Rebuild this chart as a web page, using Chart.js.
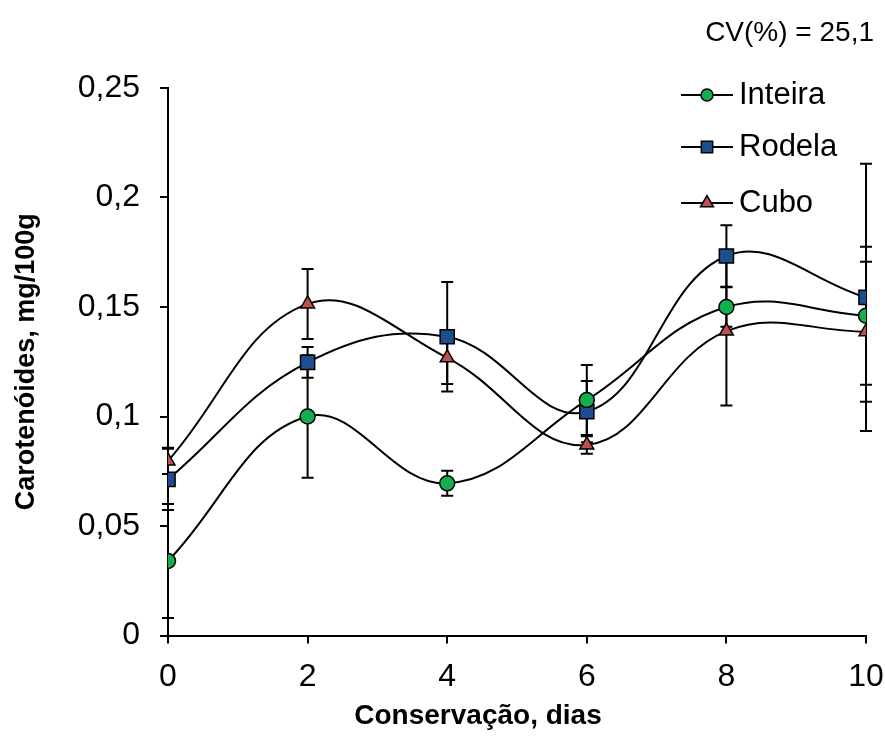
<!DOCTYPE html>
<html>
<head>
<meta charset="utf-8">
<script src="https://cdn.jsdelivr.net/npm/chart.js@4/dist/chart.umd.min.js"></script>
<style>
  html, body { margin: 0; padding: 0; background: #ffffff; }
  #wrap { width: 885px; height: 754px; position: relative; }
</style>
</head>
<body>
<div id="wrap"><canvas id="c" width="885" height="754"></canvas></div>
<script>
const days = [0, 2, 4, 6, 8, 10];
const seriesNames = ['Inteira', 'Rodela', 'Cubo'];
const inteira = [0.034, 0.100, 0.0695, 0.1075, 0.150, 0.146];
const rodela  = [0.0713, 0.1247, 0.1364, 0.1022, 0.1733, 0.1544];
const cubo    = [0.0797, 0.1514, 0.1268, 0.087, 0.139, 0.1387];
const inteiraErr = [0.026, 0.028, 0.0057, 0.016, 0.009, 0.0315];
const rodelaErr  = [0.014, 0.007, 0.025, 0.014, 0.014, 0.061];
const cuboErr    = [0.006, 0.016, 0.012, 0.004, 0.034, 0.032];
const yTickLabels = ['0', '0,05', '0,1', '0,15', '0,2', '0,25'];
const xTickLabels = ['0', '2', '4', '6', '8', '10'];
const cvText = 'CV(%) = 25,1';
const xTitle = 'Conservação, dias';
const yTitle = 'Carotenóides, mg/100g';

const FONT = "'Liberation Sans', Arial, Helvetica, sans-serif";

function pts(vals) { return days.map((d, i) => ({ x: d, y: vals[i] })); }

const styles = [
  { color: '#12B04C', point: 'circle', r: 7.5, lr: 6 },
  { color: '#1F4E8F', point: 'rect', r: 10, lr: 8 },
  { color: '#C0504D', point: 'triangle', r: 8, lr: 7.5 }
];
const allVals = [inteira, rodela, cubo];
const allErrs = [inteiraErr, rodelaErr, cuboErr];

const errorBars = {
  id: 'errorBars',
  beforeDatasetsDraw(chart) {
    const ctx = chart.ctx, xs = chart.scales.x, ys = chart.scales.y;
    ctx.save();
    ctx.strokeStyle = '#000';
    ctx.lineWidth = 2;
    allVals.forEach((vals, s) => {
      vals.forEach((v, j) => {
        const e = allErrs[s][j];
        const x = xs.getPixelForValue(days[j]);
        const yt = ys.getPixelForValue(v + e);
        const yb = ys.getPixelForValue(v - e);
        ctx.beginPath();
        ctx.moveTo(x, yt); ctx.lineTo(x, yb);
        ctx.moveTo(x - 6, yt); ctx.lineTo(x + 6, yt);
        ctx.moveTo(x - 6, yb); ctx.lineTo(x + 6, yb);
        ctx.stroke();
      });
    });
    ctx.restore();
  }
};

const extras = {
  id: 'extras',
  afterDraw(chart) {
    const ctx = chart.ctx;
    ctx.save();
    ctx.fillStyle = '#000';
    ctx.font = '28px ' + FONT;
    ctx.textAlign = 'right';
    ctx.textBaseline = 'middle';
    ctx.fillText(cvText, 874, 33);
    // x axis title
    ctx.font = 'bold 28px ' + FONT;
    ctx.textAlign = 'center';
    ctx.fillText(xTitle, 478, 716);
    const rows = [95, 147, 203];
    chart.data.datasets.forEach((ds, i) => {
      const y = rows[i];
      ctx.strokeStyle = '#000';
      ctx.lineWidth = 2;
      ctx.beginPath();
      ctx.moveTo(681, y); ctx.lineTo(733, y);
      ctx.stroke();
      ctx.fillStyle = ds.pointBackgroundColor;
      ctx.strokeStyle = '#000';
      ctx.lineWidth = 1.5;
      Chart.helpers.drawPoint(ctx, { pointStyle: ds.pointStyle, radius: styles[i].lr, borderWidth: 1.5 }, 707, y);
      ctx.fillStyle = '#000';
      ctx.font = '31px ' + FONT;
      ctx.textAlign = 'left';
      ctx.textBaseline = 'middle';
      ctx.fillText(ds.label, 739, y);
    });
    ctx.restore();
  }
};

const datasets = allVals.map((vals, i) => ({
  label: seriesNames[i],
  data: pts(vals),
  borderColor: '#000',
  borderWidth: 2,
  tension: 0.4,
  fill: false,
  pointStyle: styles[i].point,
  pointRadius: styles[i].r,
  pointHoverRadius: styles[i].r,
  pointBackgroundColor: styles[i].color,
  pointBorderColor: '#000',
  pointBorderWidth: 1.5
}));

new Chart(document.getElementById('c'), {
  type: 'line',
  data: { datasets },
  plugins: [errorBars, extras],
  options: {
    responsive: false,
    animation: false,
    events: [],
    layout: { padding: { top: 88, right: 0, bottom: 0, left: 0 } },
    plugins: { legend: { display: false }, tooltip: { enabled: false }, title: { display: false } },
    scales: {
      x: {
        type: 'linear',
        min: 0, max: 10,
        afterFit(scale) { scale.height = 118.5; scale.paddingRight = 19; scale.paddingLeft = 0; },
        ticks: {
          stepSize: 2,
          color: '#000',
          font: { family: FONT, size: 32 },
          padding: 14,
          maxRotation: 0,
          callback: (v, i) => xTickLabels[i]
        },
        grid: { display: true, drawOnChartArea: false, drawTicks: true, tickLength: 8, color: '#000', lineWidth: 2 },
        border: { display: true, color: '#000', width: 2 },
        title: { display: false, text: xTitle }
      },
      y: {
        min: 0, max: 0.25,
        afterFit(scale) { scale.width = 168; },
        ticks: {
          stepSize: 0.05,
          color: '#000',
          font: { family: FONT, size: 32 },
          padding: 20,
          callback: (v, i) => yTickLabels[i]
        },
        grid: { display: true, drawOnChartArea: false, drawTicks: true, tickLength: 8, color: '#000', lineWidth: 2 },
        border: { display: true, color: '#000', width: 2 },
        title: { display: true, text: yTitle, color: '#000', font: { family: FONT, size: 27, weight: 'bold' }, padding: { top: 10, bottom: 0 } }
      }
    }
  }
});
</script>
</body>
</html>
